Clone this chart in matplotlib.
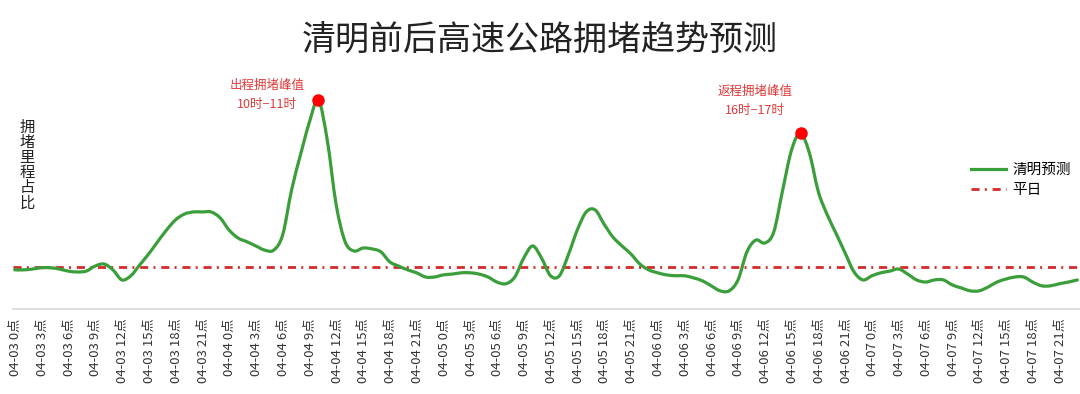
import numpy as np
import matplotlib
matplotlib.use("Agg")
import matplotlib.pyplot as plt
from matplotlib.lines import Line2D
from matplotlib.path import Path
from matplotlib.patches import PathPatch

plt.rcParams['font.family'] = ['Noto Sans CJK SC', 'DejaVu Sans']

#-- Data (hourly, 04-03 0点 .. 04-07 23点), congestion ratio, weekday level = 1.0
hours = np.arange(120)
qingming = [
    0.93, 0.93, 0.95, 0.98, 0.98, 0.95, 0.90, 0.88, 0.90, 1.02,   # 04-03 0-9
    1.07, 0.93, 0.69, 0.79, 1.05, 1.31, 1.60, 1.88, 2.12, 2.26,   # 10-19
    2.31, 2.31, 2.31, 2.17, 1.88, 1.69, 1.60, 1.50, 1.40, 1.40,   # 04-03 20 - 04-04 5
    1.76, 2.83, 3.67, 4.45, 4.98, 4.02, 2.48, 1.60, 1.38, 1.45,   # 04-04 6-15
    1.43, 1.36, 1.12, 1.02, 0.93, 0.86, 0.76, 0.76, 0.81, 0.83,   # 04-04 16 - 04-05 1
    0.86, 0.86, 0.83, 0.76, 0.64, 0.60, 0.76, 1.21, 1.50, 1.21,   # 04-05 2-11
    0.79, 0.79, 1.29, 1.88, 2.31, 2.36, 2.02, 1.71, 1.50, 1.31,   # 04-05 12-21
    1.07, 0.93, 0.86, 0.81, 0.79, 0.79, 0.74, 0.67, 0.55, 0.43,   # 04-05 22 - 04-06 7
    0.43, 0.69, 1.36, 1.64, 1.57, 1.83, 2.83, 3.79, 4.19, 3.71,   # 04-06 8-17
    2.79, 2.24, 1.79, 1.33, 0.88, 0.69, 0.79, 0.86, 0.90, 0.95,   # 04-06 18 - 04-07 3
    0.83, 0.69, 0.64, 0.69, 0.69, 0.57, 0.50, 0.43, 0.43, 0.52,   # 04-07 4-13
    0.64, 0.71, 0.76, 0.76, 0.64, 0.55, 0.55, 0.60, 0.64, 0.69,   # 04-07 14-23
]
weekday = 1.0

tick_hours = np.arange(0, 120, 3)
days = ['04-03', '04-04', '04-05', '04-06', '04-07']
tick_labels = [f'{days[h // 24]} {h % 24}点' for h in tick_hours]

peak_hours = [34, 88]
peak_notes = ['出程拥堵峰值\n10时−11时', '返程拥堵峰值\n16时−17时']
ylabel = '拥堵里程占比'


def smooth_path(x, y):
    # catmull-rom through the points, drawn as cubic bezier segments
    pts = np.column_stack([x, y]).astype(float)
    pad = np.vstack([pts[0], pts, pts[-1]])
    verts = [pts[0]]
    codes = [Path.MOVETO]
    for i in range(1, len(pad) - 2):
        p0, p1, p2, p3 = pad[i - 1], pad[i], pad[i + 1], pad[i + 2]
        verts += [p1 + (p2 - p0) / 6, p2 - (p3 - p1) / 6, p2]
        codes += [Path.CURVE4] * 3
    return Path(verts, codes)


#-- Figure
fig = plt.figure(figsize=(10.8, 3.94), dpi=100)
ax = fig.add_axes([0.012, 0.216, 0.988, 0.606])

green = '#3a9e3a'
red = '#d42a2a'
dash = (2.9, 1.9, 0.7, 2.1)

ax.add_patch(PathPatch(smooth_path(hours, qingming), fill=False,
                       edgecolor=green, lw=2.3, capstyle='round',
                       joinstyle='round', zorder=3))
ax.axhline(weekday, color=red, lw=2.0, dashes=dash, zorder=2)

qm = np.array(qingming)
ax.plot(peak_hours, qm[peak_hours], 'o', color='#ff0000', ms=8, zorder=4)

fig.text(267 / 1080, 1 - 95 / 394, peak_notes[0], color='#e03a3a',
         fontsize=9, ha='center', va='center', linespacing=1.6)
fig.text(755 / 1080, 1 - 101 / 394, peak_notes[1], color='#e03a3a',
         fontsize=9, ha='center', va='center', linespacing=1.6)

ax.set_xlim(-0.2, 119.3)
ax.set_ylim(0, 5.69)
ax.set_xticks(tick_hours)
ax.set_xticklabels(tick_labels, rotation=90, fontsize=9.5, color='#333333')
ax.tick_params(axis='x', length=0, pad=7)
ax.set_yticks([])
for side in ['top', 'right', 'left']:
    ax.spines[side].set_visible(False)
ax.spines['bottom'].set_color('#d8d8d8')
ax.spines['bottom'].set_linewidth(1.2)

fig.text(0.5, 1 - 40 / 394, '清明前后高速公路拥堵趋势预测', ha='center',
         va='center', fontsize=24.5, color='#222222')
# vertical y label, one character per row
for i, ch in enumerate(ylabel):
    fig.text(27 / 1080, 1 - (127 + 15.2 * i) / 394, ch, ha='center',
             va='center', fontsize=11, color='#222222')

handles = [Line2D([], [], color=green, lw=2.3),
           Line2D([], [], color=red, lw=2.0, dashes=dash)]
fig.legend(handles, ['清明预测', '平日'], loc='upper left',
           bbox_to_anchor=(0.887, 0.62), frameon=False, fontsize=10.5,
           handlelength=2.4, handletextpad=0.45, labelspacing=0.45)

fig.savefig('out.png', dpi=100, facecolor='white')
